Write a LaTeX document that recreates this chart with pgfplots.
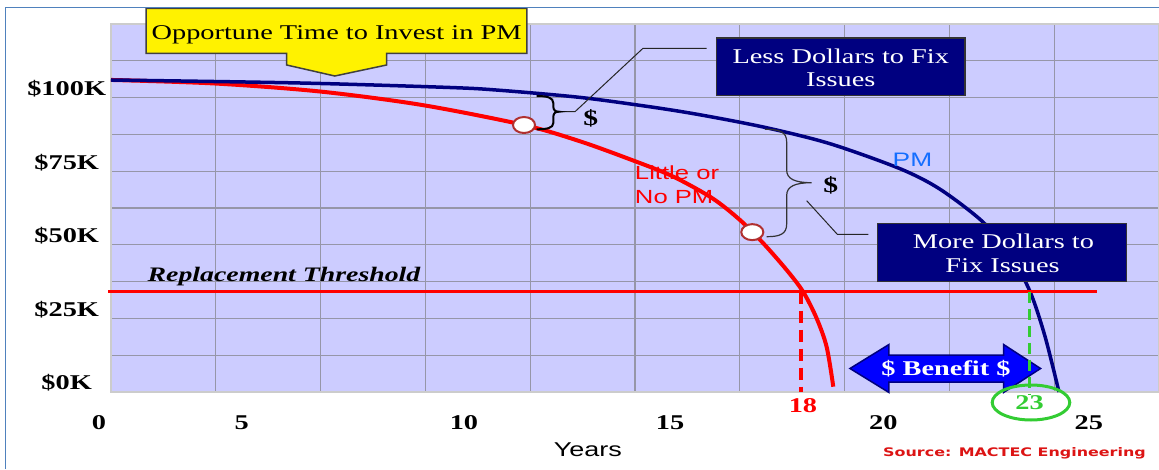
\documentclass[border=0pt]{standalone}
\usepackage{pgfplots}
\pgfplotsset{compat=1.18}
\usepackage{fontspec}
\setmainfont{Liberation Serif}[FakeStretch=1.35]
\newfontfamily\arialf{Liberation Sans}[FakeStretch=1.35]
\newfontfamily\verdf{DejaVu Sans}[FakeStretch=1.35]

\definecolor{plotbg}{RGB}{204,204,255}
\definecolor{gridc}{RGB}{150,150,168}
\definecolor{navy}{RGB}{0,0,128}
\definecolor{pmblue}{RGB}{20,110,255}
\definecolor{grn}{RGB}{51,204,51}
\definecolor{circred}{RGB}{176,48,48}
\definecolor{framec}{RGB}{79,129,189}
\definecolor{srcred}{RGB}{220,20,20}

% picture pixels -> data (years, $K)
\newcommand\hx[1]{(#1-45)/41.92}
\newcommand\hy[1]{(392-#1)/2.944}
\newcommand\fs[1]{\fontsize{#1}{#1}\selectfont}

\begin{document}
\begin{tikzpicture}
\useasboundingbox (0,0) rectangle (1159pt,469pt);
\begin{axis}[
  at={(111pt,77pt)}, anchor=south west,
  scale only axis, width=1048pt, height=368pt,
  xmin=1.5744, xmax=26.5744, ymin=0, ymax=125,
  clip=false,
  axis background/.style={fill=plotbg},
  axis line style={draw=black!20, line width=1.2pt},
  tick style={draw=none},
  xtick={1.598,5.002,10.305,15.22,20.31,25.21},
  xticklabels={0,5,10,15,20,25},
  xticklabel style={anchor=center, xshift=-13pt, yshift=-31pt},
  ytick={0,25,50,75,100},
  yticklabels={\$0K,\$25K,\$50K,\$75K,\$100K},
  yticklabel style={anchor=center, xshift=-44.3pt, yshift=9pt},
  ticklabel style={font=\fs{21}\bfseries},
  minor xtick={4.0744,6.5744,9.0744,11.5744,14.0744,16.5744,19.0744,21.5744,24.0744},
  minor ytick={12.5,37.5,62.5,87.5,112.5},
  xminorgrids, yminorgrids, ymajorgrids,
  grid style={draw=gridc, line width=1.3pt},
  minor grid style={draw=gridc, line width=1.3pt},
  xlabel={Years},
  xlabel style={at={(axis description cs:0.455,-0.1576)}, anchor=center, font=\arialf\fs{20}},
]
% Little or no PM
\addplot[red, line width=4pt, smooth] coordinates {
  (1.574,106.0) (4.055,104.79) (6.560,102.07) (8.993,97.49) (11.427,90.69)
  (12.762,85.16) (13.955,79.04) (14.957,73.37) (15.911,65.90) (16.579,58.42)
  (17.135,50.51) (17.693,41.44) (18.089,33.97) (18.409,24.97) (18.647,15.29)
  (18.805,1.8)};
% PM
\addplot[navy, line width=3.5pt, smooth] coordinates {
  (1.574,105.98) (6.083,104.96) (9.661,103.43) (10.854,102.48) (12.762,100.07)
  (14.432,96.88) (15.625,94.16) (17.176,89.88) (18.726,84.34) (20.396,75.85)
  (21.350,68.89) (22.376,57.74) (23.020,46.74) (23.497,34.17) (23.855,18.92)
  (24.189,0)};
% replacement threshold
\addplot[red, line width=3.5pt] coordinates {(1.503,34.07) (25.096,34.07)};
\addplot[red, line width=4pt, dash pattern=on 12pt off 7pt] coordinates {(18.03,34.07) (18.03,0)};
\addplot[only marks, mark=*, mark size=8pt,
  mark options={xscale=1.38, fill=white, draw=circred, line width=2pt}]
  coordinates {(11.427,90.69) (16.873,54.3)};

\path (axis cs:{\hx{284}},{\hy{281}}) node[anchor=base, font=\fs{20.6}\bfseries\itshape] {Replacement Threshold};
\path (axis cs:{\hx{912.5}},{\hy{167}}) node[anchor=base, text=pmblue, font=\arialf\fs{19.5}] {PM};
\path (axis cs:{\hx{634.8}},{\hy{180}}) node[anchor=base west, inner sep=0pt, text=red, font=\arialf\fs{19}] {Little or};
\path (axis cs:{\hx{634.8}},{\hy{203.4}}) node[anchor=base west, inner sep=0pt, text=red, font=\arialf\fs{19}] {No PM};

% callout
\draw[fill=yellow, draw=black!75, line width=1.5pt]
  (axis cs:{\hx{146}},{\hy{8.3}}) -- (axis cs:{\hx{527}},{\hy{8.3}}) -- (axis cs:{\hx{527}},{\hy{53.3}})
  -- (axis cs:{\hx{386.6}},{\hy{53.3}}) -- (axis cs:{\hx{386.6}},{\hy{65}}) -- (axis cs:{\hx{334.8}},{\hy{76}})
  -- (axis cs:{\hx{286.7}},{\hy{65}}) -- (axis cs:{\hx{286.7}},{\hy{53.3}}) -- (axis cs:{\hx{146}},{\hy{53.3}}) -- cycle;
\path (axis cs:{\hx{336.6}},{\hy{39.2}}) node[anchor=base, font=\fs{21}] {Opportune Time to Invest in PM};

% less dollars
\draw[fill=navy, draw=black!80, line width=1.5pt] (axis cs:{\hx{716.7}},{\hy{38}}) rectangle (axis cs:{\hx{965}},{\hy{95.5}});
\path (axis cs:{\hx{840.8}},{\hy{63.7}}) node[anchor=base, text=white, font=\fs{21}] {Less Dollars to Fix};
\path (axis cs:{\hx{840.8}},{\hy{87}}) node[anchor=base, text=white, font=\fs{21}] {Issues};
\draw[black!85, line width=1pt] (axis cs:{\hx{559}},{\hy{111.7}}) -- (axis cs:{\hx{575}},{\hy{111.7}})
  -- (axis cs:{\hx{643}},{\hy{48.3}}) -- (axis cs:{\hx{706.7}},{\hy{48.3}});
\draw[black, line width=2pt] (axis cs:{\hx{536.7}},{\hy{96}})
  .. controls (axis cs:{\hx{547}},{\hy{96}}) and (axis cs:{\hx{553.3}},{\hy{97.5}}) .. (axis cs:{\hx{553.3}},{\hy{103}})
  -- (axis cs:{\hx{553.3}},{\hy{106}})
  .. controls (axis cs:{\hx{553.3}},{\hy{110}}) and (axis cs:{\hx{555}},{\hy{111.7}}) .. (axis cs:{\hx{559}},{\hy{111.7}})
  .. controls (axis cs:{\hx{555}},{\hy{111.7}}) and (axis cs:{\hx{553.3}},{\hy{113.4}}) .. (axis cs:{\hx{553.3}},{\hy{117.4}})
  -- (axis cs:{\hx{553.3}},{\hy{123}})
  .. controls (axis cs:{\hx{553.3}},{\hy{128}}) and (axis cs:{\hx{547}},{\hy{129.3}}) .. (axis cs:{\hx{536.7}},{\hy{129.3}});
\path (axis cs:{\hx{590.7}},{\hy{118.3}}) node[font=\fs{22}\bfseries] {\$};

% more dollars
\draw[black!80, line width=1.2pt] (axis cs:{\hx{765}},{\hy{129.3}})
  .. controls (axis cs:{\hx{780}},{\hy{129.3}}) and (axis cs:{\hx{786.7}},{\hy{132}}) .. (axis cs:{\hx{786.7}},{\hy{142}})
  -- (axis cs:{\hx{786.7}},{\hy{170}})
  .. controls (axis cs:{\hx{786.7}},{\hy{179}}) and (axis cs:{\hx{795}},{\hy{182.7}}) .. (axis cs:{\hx{811.7}},{\hy{182.7}})
  .. controls (axis cs:{\hx{795}},{\hy{182.7}}) and (axis cs:{\hx{786.7}},{\hy{186.4}}) .. (axis cs:{\hx{786.7}},{\hy{195.4}})
  -- (axis cs:{\hx{786.7}},{\hy{224}})
  .. controls (axis cs:{\hx{786.7}},{\hy{234}}) and (axis cs:{\hx{780}},{\hy{236.7}}) .. (axis cs:{\hx{766.7}},{\hy{236.7}});
\path (axis cs:{\hx{830.7}},{\hy{185}}) node[font=\fs{22}\bfseries] {\$};
\draw[black!85, line width=1pt] (axis cs:{\hx{806.7}},{\hy{200.7}}) -- (axis cs:{\hx{837.3}},{\hy{234.3}}) -- (axis cs:{\hx{868.3}},{\hy{234.3}});
\draw[fill=navy, draw=black!80, line width=1.5pt] (axis cs:{\hx{877.3}},{\hy{223.3}}) rectangle (axis cs:{\hx{1126.5}},{\hy{281.7}});
\path (axis cs:{\hx{1003.5}},{\hy{248.7}}) node[anchor=base, text=white, font=\fs{21}] {More Dollars to};
\path (axis cs:{\hx{1002.6}},{\hy{272}}) node[anchor=base, text=white, font=\fs{21}] {Fix Issues};

% benefit arrow
\draw[fill=blue, draw=navy, line width=1.5pt]
  (axis cs:{\hx{850}},{\hy{368.5}}) -- (axis cs:{\hx{889}},{\hy{344.5}}) -- (axis cs:{\hx{889}},{\hy{355}})
  -- (axis cs:{\hx{1003.6}},{\hy{355}}) -- (axis cs:{\hx{1003.6}},{\hy{344.5}}) -- (axis cs:{\hx{1040.6}},{\hy{368.5}})
  -- (axis cs:{\hx{1003.6}},{\hy{392.5}}) -- (axis cs:{\hx{1003.6}},{\hy{382}}) -- (axis cs:{\hx{889}},{\hy{382}})
  -- (axis cs:{\hx{889}},{\hy{392.5}}) -- cycle;
\path (axis cs:{\hx{946}},{\hy{375}}) node[anchor=base, text=white, font=\fs{21}\bfseries] {\$ Benefit \$};

\addplot[grn, line width=3.5pt, dash pattern=on 11pt off 6pt] coordinates {(23.48,34.07) (23.48,-1)};

\path (axis cs:{\hx{803}},{\hy{412}}) node[anchor=base, text=red, font=\fs{21}\bfseries] {18};
\path (axis cs:{\hx{1029.6}},{\hy{409.6}}) node[anchor=base, text=grn, font=\fs{21}\bfseries] {23};
\draw[grn, line width=3pt] (axis cs:{\hx{1031}},{\hy{402.5}}) ellipse [x radius=38.8pt, y radius=17.5pt];

\path (axis cs:{\hx{1014.5}},{\hy{456.3}}) node[anchor=base, text=srcred, font=\verdf\fs{11.8}\bfseries] {Source: MACTEC Engineering};
\draw[framec, line width=1.5pt] (axis cs:{\hx{5.7}},{\hy{469}}) -- (axis cs:{\hx{5.7}},{\hy{7.3}}) -- (axis cs:{\hx{1159}},{\hy{7.3}});
\end{axis}
\end{tikzpicture}
\end{document}
